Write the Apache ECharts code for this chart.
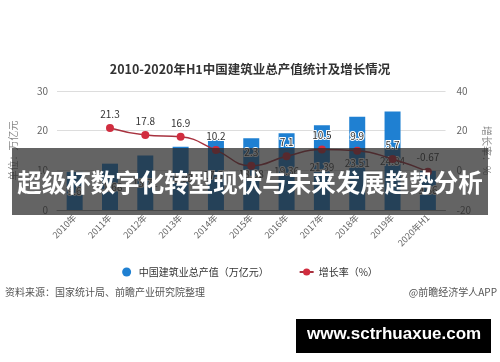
<!DOCTYPE html>
<html><head><meta charset="utf-8">
<script src="https://cdn.jsdelivr.net/npm/echarts@6/dist/echarts.min.js"></script>
<style>html,body{margin:0;padding:0;background:#fff}#c{width:500px;height:362px}</style>
</head><body><div id="c"></div>
<script>
const categories = ['2010年','2011年','2012年','2013年','2014年','2015年','2016年','2017年','2018年','2019年','2020年H1'];
const outputValues = [9.6, 11.68, 13.72, 15.93, 17.67, 18.08, 19.36, 21.39, 23.51, 24.84, 9.86];
const growthRates = [null, 21.3, 17.8, 16.9, 10.2, 2.3, 7.1, 10.5, 9.9, 5.7, -0.67];
const leftTicks = {min: 0, max: 30, interval: 10};
const rightTicks = {min: -20, max: 40, interval: 20};

const FONT = '"Noto Sans CJK SC", "Noto Sans", sans-serif';
const chart = echarts.init(document.getElementById('c'), null, {renderer: 'canvas'});
chart.setOption({
  animation: false,
  backgroundColor: '#fff',
  textStyle: {fontFamily: FONT},
  title: {
    text: '2010-2020年H1中国建筑业总产值统计及增长情况',
    left: 'center', top: 58,
    textStyle: {fontSize: 12.5, fontWeight: 'bold', color: '#333', fontFamily: FONT}
  },
  legend: {
    top: 262, left: 'center', itemGap: 30, itemWidth: 14, itemHeight: 9,
    textStyle: {fontSize: 10, color: '#333', fontFamily: FONT},
    data: [{name: '中国建筑业总产值（万亿元）', icon: 'circle'}, {name: '增长率（%）'}]
  },
  grid: {left: 47, right: 54, top: 91, bottom: 152, containLabel: false},
  xAxis: {
    type: 'category', data: categories,
    axisLine: {lineStyle: {color: '#999'}},
    axisTick: {alignWithLabel: true, length: 4, lineStyle: {color: '#999'}},
    axisLabel: {rotate: 45, fontSize: 9, color: '#666', margin: 6, interval: 0}
  },
  yAxis: [
    {type: 'value', min: leftTicks.min, max: leftTicks.max, interval: leftTicks.interval,
     name: '单位：万亿元', nameLocation: 'middle', nameGap: 39,
     nameTextStyle: {fontSize: 10, color: '#888'},
     axisLine: {show: false}, axisTick: {show: false},
     axisLabel: {fontSize: 10, color: '#666', margin: 9},
     splitLine: {lineStyle: {color: '#ddd'}}},
    {type: 'value', min: rightTicks.min, max: rightTicks.max, interval: rightTicks.interval,
     name: '增长率：%', nameLocation: 'middle', nameGap: 31, nameRotate: -90,
     nameTextStyle: {fontSize: 10, color: '#888'},
     axisLine: {show: false}, axisTick: {show: false},
     axisLabel: {fontSize: 10, color: '#666', margin: 11},
     splitLine: {show: false}}
  ],
  series: [
    {name: '中国建筑业总产值（万亿元）', type: 'bar', data: outputValues, barWidth: 16,
     itemStyle: {color: '#1f80d2'},
     label: {show: true, position: 'inside', fontSize: 10, color: '#444',
             textBorderColor: '#fff', textBorderWidth: 2}},
    {name: '增长率（%）', type: 'line', yAxisIndex: 1, data: growthRates, smooth: true,
     symbol: 'circle', symbolSize: 8,
     lineStyle: {color: '#a8323f', width: 1.5},
     itemStyle: {color: '#d12d3f'},
     label: {show: true, position: 'top', fontSize: 10, color: '#333', distance: 5,
             textBorderColor: '#fff', textBorderWidth: 2}}
  ],
  graphic: [
    {type: 'rect', left: 12, top: 148, z: 100,
     shape: {width: 476, height: 67},
     style: {fill: 'rgba(40,40,40,0.72)'}},
    {type: 'text', left: 'center', top: 170, z: 101,
     style: {text: '超级杯数字化转型现状与未来发展趋势分析', fill: '#fff',
             font: 'bold 24.5px "Noto Sans CJK SC", sans-serif'}},
    {type: 'text', left: 5, top: 287, z: 50,
     style: {text: '资料来源：国家统计局、前瞻产业研究院整理', fill: '#555',
             font: '10px "Noto Sans CJK SC", sans-serif'}},
    {type: 'text', right: 3, top: 287, z: 50,
     style: {text: '@前瞻经济学人APP', fill: '#555',
             font: '10px "Noto Sans CJK SC", sans-serif'}},
    {type: 'rect', left: 296, top: 319, z: 100,
     shape: {width: 195, height: 34}, style: {fill: '#000'}},
    {type: 'text', left: 307, top: 326, z: 101,
     style: {text: 'www.sctrhuaxue.com', fill: '#fff',
             font: 'bold 17px "Liberation Sans", Arial, sans-serif'}}
  ]
});
</script></body></html>
